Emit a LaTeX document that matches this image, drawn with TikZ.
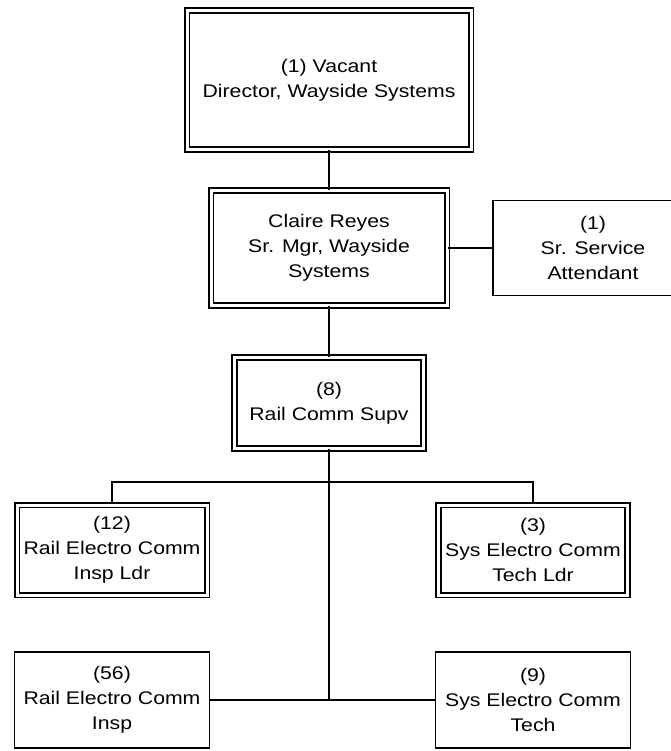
\documentclass[tikz,border=0pt]{standalone}
\usepackage{fontspec}
\newfontfamily\orgfont[FakeStretch=1.16]{Liberation Sans}
\usetikzlibrary{calc}
\tikzset{
    post/.style={draw, line width=1.7pt, align=center, inner sep=0pt,
        font={\orgfont\fontsize{18.3}{25}\selectfont}},
    postdouble/.style={post, line width=1.8pt, double, double distance=3pt},
    link/.style={draw, line width=1.7pt}
}

\begin{document}
\begin{tikzpicture}[x=1pt, y=-1pt]
\useasboundingbox (0,0) rectangle (670,751);

\node[postdouble, minimum width=284, minimum height=139] (director) at (329,80)
    {(1) Vacant\\Director, Wayside Systems};
\node[postdouble, minimum width=236, minimum height=115] (claire) at (329,248)
    {Claire Reyes\\Sr. Mgr, Wayside\\Systems};
\node[post, minimum width=200, minimum height=95] (attendant) at (593,248)
    {(1)\\Sr. Service\\Attendant};
\node[postdouble, minimum width=189, minimum height=91] (supv) at (329,403)
    {(8)\\Rail Comm Supv};

\node[postdouble, minimum width=190, minimum height=90] (ldrL) at (112,550)
    {(12)\\Rail Electro Comm\\Insp Ldr};
\node[postdouble, minimum width=189, minimum height=90] (ldrR) at (533,550)
    {(3)\\Sys Electro Comm\\Tech Ldr};
\node[post, minimum width=195, minimum height=96] (inspL) at (112,700)
    {(56)\\Rail Electro Comm\\Insp};
\node[post, minimum width=195, minimum height=96] (techR) at (533,700)
    {(9)\\Sys Electro Comm\\Tech};

\coordinate (branch) at (329,482);
\coordinate (foot) at (329,700);

\draw[link] (director) -- (claire);
\draw[link] (claire) -- (attendant);
\draw[link] (claire) -- (supv);
\draw[link] (supv) -- (foot);
\draw[link] (ldrL.north) |- (branch) -| (ldrR.north);
\draw[link] (inspL) -- (techR);

\end{tikzpicture}
\end{document}
